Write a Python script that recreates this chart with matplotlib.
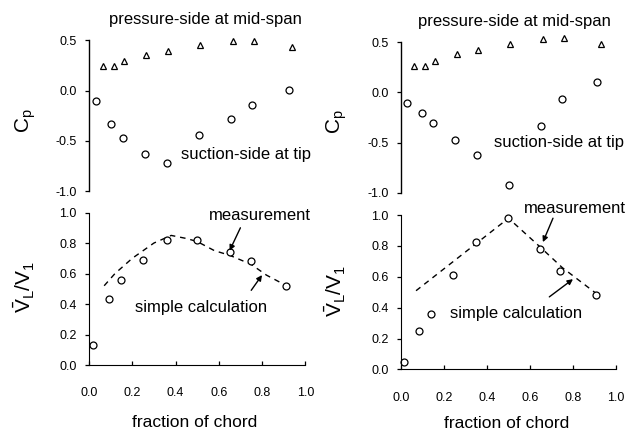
import matplotlib
matplotlib.use('Agg')
import matplotlib.pyplot as plt

plt.rcParams['font.family'] = ['Liberation Sans', 'DejaVu Sans']
plt.rcParams['mathtext.fontset'] = 'custom'
plt.rcParams['mathtext.rm'] = 'Liberation Sans'
plt.rcParams['mathtext.it'] = 'Liberation Sans'

# left case: Cp on pressure side (triangles) and suction side (circles)
l_tri_x = [0.065, 0.115, 0.16, 0.265, 0.365, 0.515, 0.665, 0.765, 0.94]
l_tri_cp = [0.24, 0.24, 0.29, 0.35, 0.39, 0.45, 0.49, 0.49, 0.43]
l_circ_x = [0.03, 0.10, 0.155, 0.26, 0.36, 0.51, 0.655, 0.755, 0.925]
l_circ_cp = [-0.10, -0.33, -0.47, -0.63, -0.72, -0.44, -0.28, -0.14, 0.01]
# left case: leakage velocity
l_meas_x = [0.02, 0.09, 0.15, 0.25, 0.36, 0.50, 0.65, 0.75, 0.91]
l_meas_v = [0.13, 0.43, 0.56, 0.69, 0.82, 0.82, 0.74, 0.68, 0.52]
l_calc_x = [0.07, 0.12, 0.20, 0.30, 0.38, 0.45, 0.50, 0.58, 0.65, 0.75, 0.82, 0.90]
l_calc_v = [0.52, 0.60, 0.70, 0.80, 0.85, 0.83, 0.81, 0.75, 0.72, 0.66, 0.59, 0.53]

# right case
r_tri_x = [0.06, 0.11, 0.16, 0.26, 0.36, 0.505, 0.66, 0.76, 0.93]
r_tri_cp = [0.26, 0.26, 0.31, 0.38, 0.42, 0.48, 0.53, 0.54, 0.48]
r_circ_x = [0.026, 0.10, 0.15, 0.25, 0.355, 0.503, 0.653, 0.75, 0.91]
r_circ_cp = [-0.11, -0.21, -0.30, -0.47, -0.62, -0.92, -0.33, -0.07, 0.10]
r_meas_x = [0.016, 0.086, 0.14, 0.244, 0.348, 0.50, 0.647, 0.74, 0.907]
r_meas_v = [0.05, 0.25, 0.36, 0.61, 0.825, 0.98, 0.78, 0.64, 0.48]
r_calc_x = [0.07, 0.50, 0.65, 0.75, 0.91]
r_calc_v = [0.51, 0.98, 0.79, 0.66, 0.49]

xticks = [0.0, 0.2, 0.4, 0.6, 0.8, 1.0]
cp_ticks = [-1.0, -0.5, 0.0, 0.5]
v_ticks = [0.0, 0.2, 0.4, 0.6, 0.8, 1.0]

fig = plt.figure(figsize=(6.36, 4.32), dpi=100)

top_rects = [[0.140, 0.557, 0.340, 0.350], [0.6305, 0.554, 0.338, 0.348]]
bot_rects = [[0.140, 0.155, 0.340, 0.353], [0.6305, 0.145, 0.338, 0.357]]

cases = [
    (l_tri_x, l_tri_cp, l_circ_x, l_circ_cp, l_meas_x, l_meas_v, l_calc_x, l_calc_v),
    (r_tri_x, r_tri_cp, r_circ_x, r_circ_cp, r_meas_x, r_meas_v, r_calc_x, r_calc_v),
]
# annotation positions per case (data coords)
press_pos = [(0.536, 0.71), (0.53, 0.71)]
suct_pos = [(0.725, -0.63), (0.737, -0.50)]
meas_txt = [(0.79, 0.98), (0.807, 1.045)]
meas_arrow = [((0.70, 0.90), (0.65, 0.75)), ((0.707, 0.98), (0.66, 0.825))]
calc_txt = [(0.517, 0.38), (0.537, 0.365)]
calc_arrow = [((0.75, 0.49), (0.80, 0.59)), ((0.69, 0.47), (0.80, 0.585))]
cp_lab_x = [-0.236, -0.24]
v_lab_x = [-0.24, -0.247]
xlab_y = [-0.33, -0.30]

for i, c in enumerate(cases):
    tx, tcp, cx, ccp, mx, mv, kx, kv = c
    ax = fig.add_axes(top_rects[i])
    ax.plot(tx, tcp, linestyle='none', marker='^', ms=5, mfc='white', mec='black', mew=0.9,
            clip_on=False)
    ax.plot(cx, ccp, linestyle='none', marker='o', ms=5, mfc='white', mec='black', mew=0.9,
            clip_on=False)
    ax.set_xlim(0, 1)
    ax.set_ylim(-1.0, 0.5)
    for s in ['top', 'right', 'bottom']:
        ax.spines[s].set_visible(False)
    ax.spines['left'].set_linewidth(1.0)
    ax.set_xticks([])
    ax.set_yticks(cp_ticks)
    ax.set_yticklabels(['%.1f' % t for t in cp_ticks])
    ax.tick_params(axis='y', direction='out', length=3, width=0.9, pad=6, labelsize=9)
    ax.text(press_pos[i][0], press_pos[i][1], 'pressure-side at mid-span', ha='center', va='center',
            fontsize=12, clip_on=False)
    ax.text(suct_pos[i][0], suct_pos[i][1], 'suction-side at tip', ha='center', va='center',
            fontsize=12, clip_on=False)
    ax.set_ylabel(r'$\mathregular{C_p}$', fontsize=15)
    ax.yaxis.set_label_coords(cp_lab_x[i], 0.47)

    bx = fig.add_axes(bot_rects[i])
    bx.plot(kx, kv, color='black', linestyle=(0, (4, 3.5)), lw=1.0)
    bx.plot(mx, mv, linestyle='none', marker='o', ms=5, mfc='white', mec='black', mew=0.9,
            clip_on=False)
    bx.set_xlim(0, 1)
    bx.set_ylim(0, 1.0)
    for s in ['top', 'right']:
        bx.spines[s].set_visible(False)
    bx.set_xticks(xticks)
    bx.set_xticklabels(['%.1f' % t for t in xticks])
    bx.set_yticks(v_ticks)
    bx.set_yticklabels(['%.1f' % t for t in v_ticks])
    bx.tick_params(axis='x', direction='in', length=3, width=0.9, pad=16, labelsize=9)
    bx.tick_params(axis='y', direction='out', length=3, width=0.9, pad=6, labelsize=9)
    bx.text(meas_txt[i][0], meas_txt[i][1], 'measurement', ha='center', va='center',
            fontsize=12, clip_on=False)
    bx.text(calc_txt[i][0], calc_txt[i][1], 'simple calculation', ha='center', va='center',
            fontsize=12, clip_on=False)
    for (a, b) in [meas_arrow[i], calc_arrow[i]]:
        bx.annotate('', xy=b, xytext=a,
                    arrowprops=dict(arrowstyle='-|>', color='black', lw=1.0,
                                    mutation_scale=8, shrinkA=0, shrinkB=0))
    bx.set_ylabel(r'$\mathregular{\bar{V}_L/V_1}$', fontsize=15)
    bx.yaxis.set_label_coords(v_lab_x[i], 0.51)
    bx.set_xlabel('fraction of chord', fontsize=12.5)
    bx.xaxis.set_label_coords(0.49, xlab_y[i])

fig.savefig('out.png', dpi=100)
